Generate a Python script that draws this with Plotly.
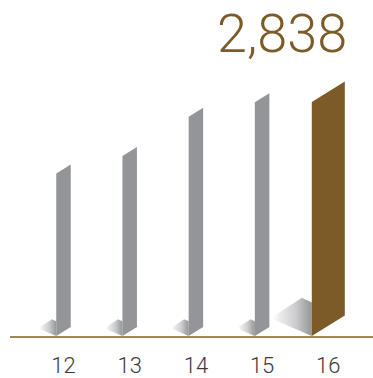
import plotly.graph_objects as go

# ---- data ----
years = ["12", "13", "14", "15", "16"]
values = [1969, 2183, 2659, 2835, 2838]
highlight_year = "16"

# ---- style ----
GRAY = "#939598"
GOLD = "#7c5b26"
BASE_LINE = "#a3855a"
TICK_COLOR = "#3a3a3a"
FONT = "Roboto"

W, H = 373, 378
M_L, M_B = 10, 36
plot_w = W - M_L
plot_h = H - M_B

STEP_PX = 66.2          # pixel distance between category centres
FIRST_PX = 63.5         # page x of the first category centre
X0 = -(FIRST_PX - M_L) / STEP_PX
X1 = X0 + plot_w / STEP_PX
Y_MAX = 4073
PX_PER_Y = plot_h / Y_MAX

SLANT = 0.63            # rise of the bar face per unit of width
THIN_W, WIDE_W = 14.5, 33.0


def dx(px):
    return px / STEP_PX


def dy(px):
    return px / PX_PER_Y


fig = go.Figure()

# soft floor shadows behind each bar
for i, (yr, v) in enumerate(zip(years, values)):
    w = WIDE_W if yr == highlight_year else THIN_W
    xl = i - dx(w / 2)
    sx = [xl, xl - dx(1.25 * w), xl - dx(0.30 * w), xl, xl]
    sy = [0, dy(0.55 * w), dy(1.18 * w), dy(1.03 * w), 0]
    fig.add_trace(go.Scatter(
        x=sx, y=sy, mode="lines", fill="toself", line=dict(width=0),
        fillgradient=dict(type="horizontal",
                          colorscale=[[0, "rgba(255,255,255,0)"],
                                      [0.2, "rgba(238,238,239,1)"],
                                      [0.6, "rgba(205,205,207,1)"],
                                      [1, "rgba(150,150,153,1)"]]),
        hoverinfo="skip", showlegend=False))

# slanted bar faces
for i, (yr, v) in enumerate(zip(years, values)):
    w = WIDE_W if yr == highlight_year else THIN_W
    color = GOLD if yr == highlight_year else GRAY
    xl, xr = i - dx(w / 2), i + dx(w / 2)
    rise = dy(SLANT * w)
    fig.add_trace(go.Scatter(
        x=[xl, xr, xr, xl, xl], y=[0, rise, v + rise, v, 0],
        mode="lines", fill="toself", fillcolor=color,
        line=dict(width=0, color=color),
        hoverinfo="skip", showlegend=False))

# headline value above the highlighted bar
hi = years.index(highlight_year)
hv = values[hi]
fig.add_annotation(
    x=hi + dx(WIDE_W / 2), y=hv + dy(SLANT * WIDE_W),
    xanchor="right", yanchor="bottom", yshift=14, xshift=4, showarrow=False,
    text=f"{hv:,}",
    font=dict(family=FONT, size=54, color=GOLD, weight=300))

fig.update_layout(
    width=W, height=H,
    margin=dict(l=M_L, r=0, t=0, b=M_B, pad=0),
    paper_bgcolor="white", plot_bgcolor="white",
    xaxis=dict(range=[X0, X1], showgrid=False, zeroline=False,
               showline=True, linecolor=BASE_LINE, linewidth=2,
               tickvals=list(range(len(years))), ticktext=years,
               ticks="", ticklabelstandoff=9,
               tickfont=dict(family=FONT, size=22,
                             color=TICK_COLOR, weight=300),
               fixedrange=True),
    yaxis=dict(range=[0, Y_MAX], visible=False, fixedrange=True),
)

fig.write_html("out.html")
